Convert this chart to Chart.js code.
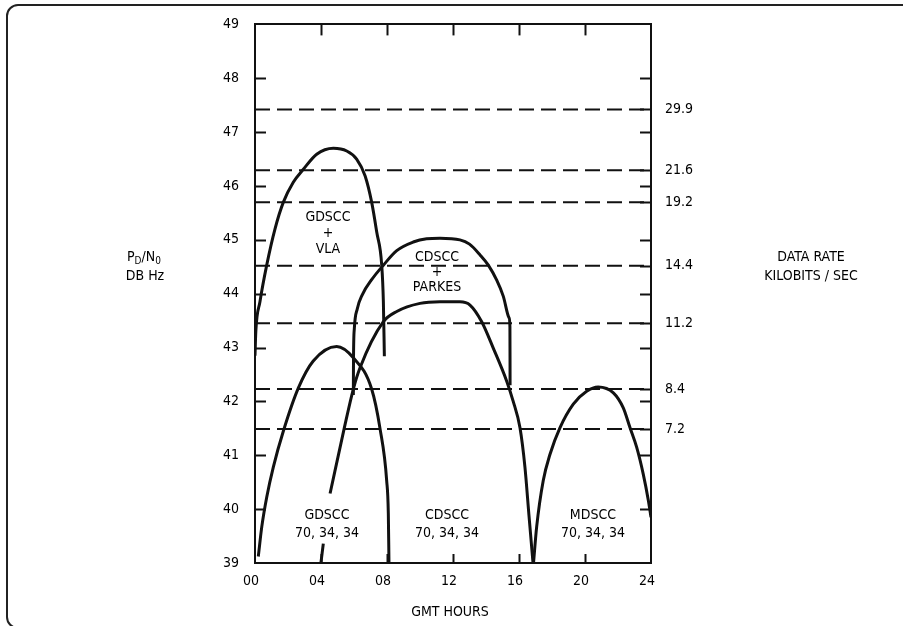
<!DOCTYPE html>
<html>
<head>
<meta charset="utf-8">
<script src="https://cdn.jsdelivr.net/npm/chart.js@4.4.1/dist/chart.umd.min.js"></script>
<style>
  html, body { margin: 0; padding: 0; background: #fff; }
  #wrap { width: 903px; height: 626px; position: relative; }
</style>
</head>
<body>
<div id="wrap"><canvas id="rateChart"></canvas></div>
<script>
// axes
const hourTicks = [0, 4, 8, 12, 16, 20, 24];
const dbTicks = [39, 40, 41, 42, 43, 44, 45, 46, 47, 48, 49];

// data rate thresholds (kbit/s) and the Pd/No level each one needs
const rateLevels = [47.42, 46.29, 45.70, 44.52, 43.45, 42.23, 41.49];
const rateLabels = ["29.9", "21.6", "19.2", "14.4", "11.2", "8.4", "7.2"];

// GDSCC + VLA
const gdsccVlaHours = [0, 0.05, 0.3, 0.71, 1.21, 1.72, 2.32, 2.93, 3.74, 4.75, 5.56, 6.16, 6.67, 7.07, 7.38, 7.68, 7.78, 7.84];
const gdsccVlaDb    = [42.85, 43.3, 43.85, 44.53, 45.2, 45.70, 46.07, 46.31, 46.59, 46.70, 46.65, 46.50, 46.19, 45.70, 45.14, 44.53, 43.85, 42.84];

// CDSCC + PARKES
const cdsccParkesHours = [5.96, 5.97, 6.02, 6.2, 6.5, 7.07, 7.78, 8.59, 9.59, 10.4, 11.21, 12.42, 13.0, 13.64, 14.14, 14.65, 15.05, 15.4, 15.45, 15.46];
const cdsccParkesDb    = [42.12, 42.8, 43.35, 43.72, 43.98, 44.26, 44.53, 44.8, 44.96, 45.02, 45.03, 45.0, 44.92, 44.72, 44.53, 44.25, 43.95, 43.55, 43.38, 42.3];

// GDSCC 70, 34, 34
const gdsccHours = [0.2, 0.41, 0.71, 1.11, 1.72, 2.63, 3.53, 4.95, 5.96, 7.07, 7.58, 7.98, 8.08, 8.12];
const gdsccDb    = [39.12, 39.67, 40.22, 40.78, 41.45, 42.25, 42.75, 43.02, 42.81, 42.23, 41.49, 40.53, 39.92, 38.99];

// CDSCC 70, 34, 34 (broken where the label sits)
const cdsccHours = [3.99, 4.14, 4.3, 4.55, 5.4, 5.96, 6.36, 7.78, 8.59, 10.0, 11.21, 12.42, 13.03, 13.74, 14.44, 15.25, 15.64, 16.06, 16.36, 16.6, 16.85];
const cdsccDb    = [38.99, 39.36, null, 40.29, 41.49, 42.23, 42.62, 43.48, 43.67, 43.82, 43.85, 43.85, 43.79, 43.48, 42.99, 42.38, 42.01, 41.51, 40.78, 39.9, 39.0];

// MDSCC 70, 34, 34
const mdsccHours = [16.88, 17.07, 17.47, 17.88, 18.48, 19.29, 20.1, 20.8, 21.72, 22.32, 22.73, 23.13, 23.53, 23.84, 24.0];
const mdsccDb    = [39.0, 39.67, 40.53, 41.02, 41.51, 41.95, 42.19, 42.27, 42.16, 41.88, 41.51, 41.15, 40.65, 40.16, 39.85];

const INK = "#111";
const FONT = '"Liberation Sans Narrow", "DejaVu Sans Condensed", "Liberation Sans", sans-serif';

Chart.defaults.font.family = FONT;
Chart.defaults.font.size = 14;
Chart.defaults.color = "#000";
Chart.defaults.animation = false;

function toPoints(xs, ys) {
  return xs.map((x, i) => ({ x: x, y: ys[i] }));
}

function curve(xs, ys) {
  return {
    data: toPoints(xs, ys),
    showLine: true,
    borderColor: INK,
    borderWidth: 3,
    pointRadius: 0,
    cubicInterpolationMode: "monotone",
    spanGaps: false,
    fill: false
  };
}

const datasets = [
  curve(gdsccVlaHours, gdsccVlaDb),
  curve(cdsccParkesHours, cdsccParkesDb),
  curve(gdsccHours, gdsccDb),
  curve(cdsccHours, cdsccDb),
  curve(mdsccHours, mdsccDb)
];

// dashed threshold lines
rateLevels.forEach(level => {
  datasets.push({
    data: [{ x: hourTicks[0], y: level }, { x: hourTicks[hourTicks.length - 1], y: level }],
    showLine: true,
    borderColor: INK,
    borderWidth: 2,
    borderDash: [15, 7],
    pointRadius: 0,
    tension: 0
  });
});

/* =====================================
   frame, inward tick marks, text
===================================== */

function line(c, x1, y1, x2, y2) {
  c.beginPath();
  c.moveTo(x1, y1);
  c.lineTo(x2, y2);
  c.stroke();
}

function centerText(c, lines, x, y, gap) {
  c.textAlign = "center";
  c.textBaseline = "middle";
  lines.forEach((t, i) => c.fillText(t, x, y + i * gap));
}

const decorPlugin = {
  id: "decor",
  beforeDraw(chart) {
    const c = chart.ctx;
    c.save();
    c.fillStyle = "#fff";
    c.fillRect(0, 0, chart.width, chart.height);

    // outer frame, rounded corners on the left
    c.strokeStyle = "#222";
    c.lineWidth = 2;
    c.beginPath();
    c.moveTo(920, 5);
    c.lineTo(18, 5);
    c.arcTo(7, 5, 7, 16, 11);
    c.lineTo(7, 617);
    c.arcTo(7, 628, 18, 628, 11);
    c.lineTo(920, 628);
    c.stroke();
    c.restore();
  },
  afterDraw(chart) {
    const c = chart.ctx;
    const a = chart.chartArea;
    const xs = chart.scales.x;
    const ys = chart.scales.y;
    c.save();
    c.strokeStyle = INK;
    c.fillStyle = "#000";
    c.lineWidth = 2;

    // tick marks pointing into the plot
    dbTicks.slice(1, -1).forEach(v => {
      const py = Math.round(ys.getPixelForValue(v)) + 0.5;
      line(c, a.left, py, a.left + 11, py);
      line(c, a.right - 11, py, a.right, py);
    });
    rateLevels.forEach(v => {
      const py = Math.round(ys.getPixelForValue(v)) + 0.5;
      line(c, a.right - 11, py, a.right, py);
    });
    hourTicks.slice(1, -1).forEach(h => {
      const px = Math.round(xs.getPixelForValue(h)) + 0.5;
      line(c, px, a.top, px, a.top + 11);
      line(c, px, a.bottom, px, a.bottom - 9);
    });

    // station labels inside the plot
    c.font = "14px " + FONT;
    centerText(c, ["GDSCC", "+", "VLA"], xs.getPixelForValue(4.42), ys.getPixelForValue(45.42), 16);
    centerText(c, ["CDSCC", "+", "PARKES"], xs.getPixelForValue(11.03), ys.getPixelForValue(44.68), 15);
    centerText(c, ["GDSCC", "70, 34, 34"], xs.getPixelForValue(4.36), ys.getPixelForValue(39.89), 18);
    centerText(c, ["CDSCC", "70, 34, 34"], xs.getPixelForValue(11.64), ys.getPixelForValue(39.89), 18);
    centerText(c, ["MDSCC", "70, 34, 34"], xs.getPixelForValue(20.48), ys.getPixelForValue(39.89), 18);

    // axis titles
    centerText(c, ["GMT HOURS"], (a.left + a.right) / 2 - 3, a.bottom + 49, 0);
    centerText(c, ["DATA RATE", "KILOBITS / SEC"], a.right + 160, ys.getPixelForValue(44.68), 19);
    centerText(c, ["DB Hz"], a.left - 110, ys.getPixelForValue(44.32), 0);

    // Pd/No with subscripts
    const small = "10px " + FONT;
    const big = "14px " + FONT;
    let tx = a.left - 128;
    const ty = ys.getPixelForValue(44.68);
    c.textAlign = "left";
    c.textBaseline = "middle";
    [["P", big, 0], ["D", small, 4], ["/N", big, 0], ["0", small, 4]].forEach(part => {
      c.font = part[1];
      c.fillText(part[0], tx, ty + part[2]);
      tx += c.measureText(part[0]).width;
    });
    c.restore();
  }
};

const rateChart = new Chart(document.getElementById("rateChart"), {
  type: "scatter",
  data: { datasets: datasets },
  plugins: [decorPlugin],
  options: {
    responsive: true,
    maintainAspectRatio: false,
    layout: { padding: 0 },
    plugins: {
      legend: { display: false },
      tooltip: { enabled: false }
    },
    scales: {
      x: {
        type: "linear",
        position: "bottom",
        min: 0,
        max: 24,
        afterBuildTicks: axis => { axis.ticks = hourTicks.map(v => ({ value: v })); },
        afterFit: axis => { axis.height = 63; },
        ticks: {
          padding: 10,
          labelOffset: -4,
          maxRotation: 0,
          autoSkip: false,
          callback: v => String(v).padStart(2, "0")
        },
        grid: { display: false, drawTicks: false },
        border: { display: true, width: 2, color: INK }
      },
      xTop: {
        type: "linear",
        position: "top",
        min: 0,
        max: 24,
        afterFit: axis => { axis.height = 21; },
        ticks: { display: false },
        grid: { display: false, drawTicks: false },
        border: { display: true, width: 2, color: INK }
      },
      y: {
        type: "linear",
        position: "left",
        min: 39,
        max: 49,
        afterBuildTicks: axis => { axis.ticks = dbTicks.map(v => ({ value: v })); },
        afterFit: axis => { axis.width = 255; },
        ticks: { padding: 16, autoSkip: false },
        grid: { display: false, drawTicks: false },
        border: { display: true, width: 2, color: INK }
      },
      y2: {
        type: "linear",
        position: "right",
        min: 39,
        max: 49,
        afterBuildTicks: axis => { axis.ticks = rateLevels.map(v => ({ value: v })); },
        afterFit: axis => { axis.width = 252; },
        ticks: {
          padding: 14,
          autoSkip: false,
          callback: v => rateLabels[rateLevels.indexOf(v)]
        },
        grid: { display: false, drawTicks: false },
        border: { display: true, width: 2, color: INK }
      }
    }
  }
});
</script>
</body>
</html>
